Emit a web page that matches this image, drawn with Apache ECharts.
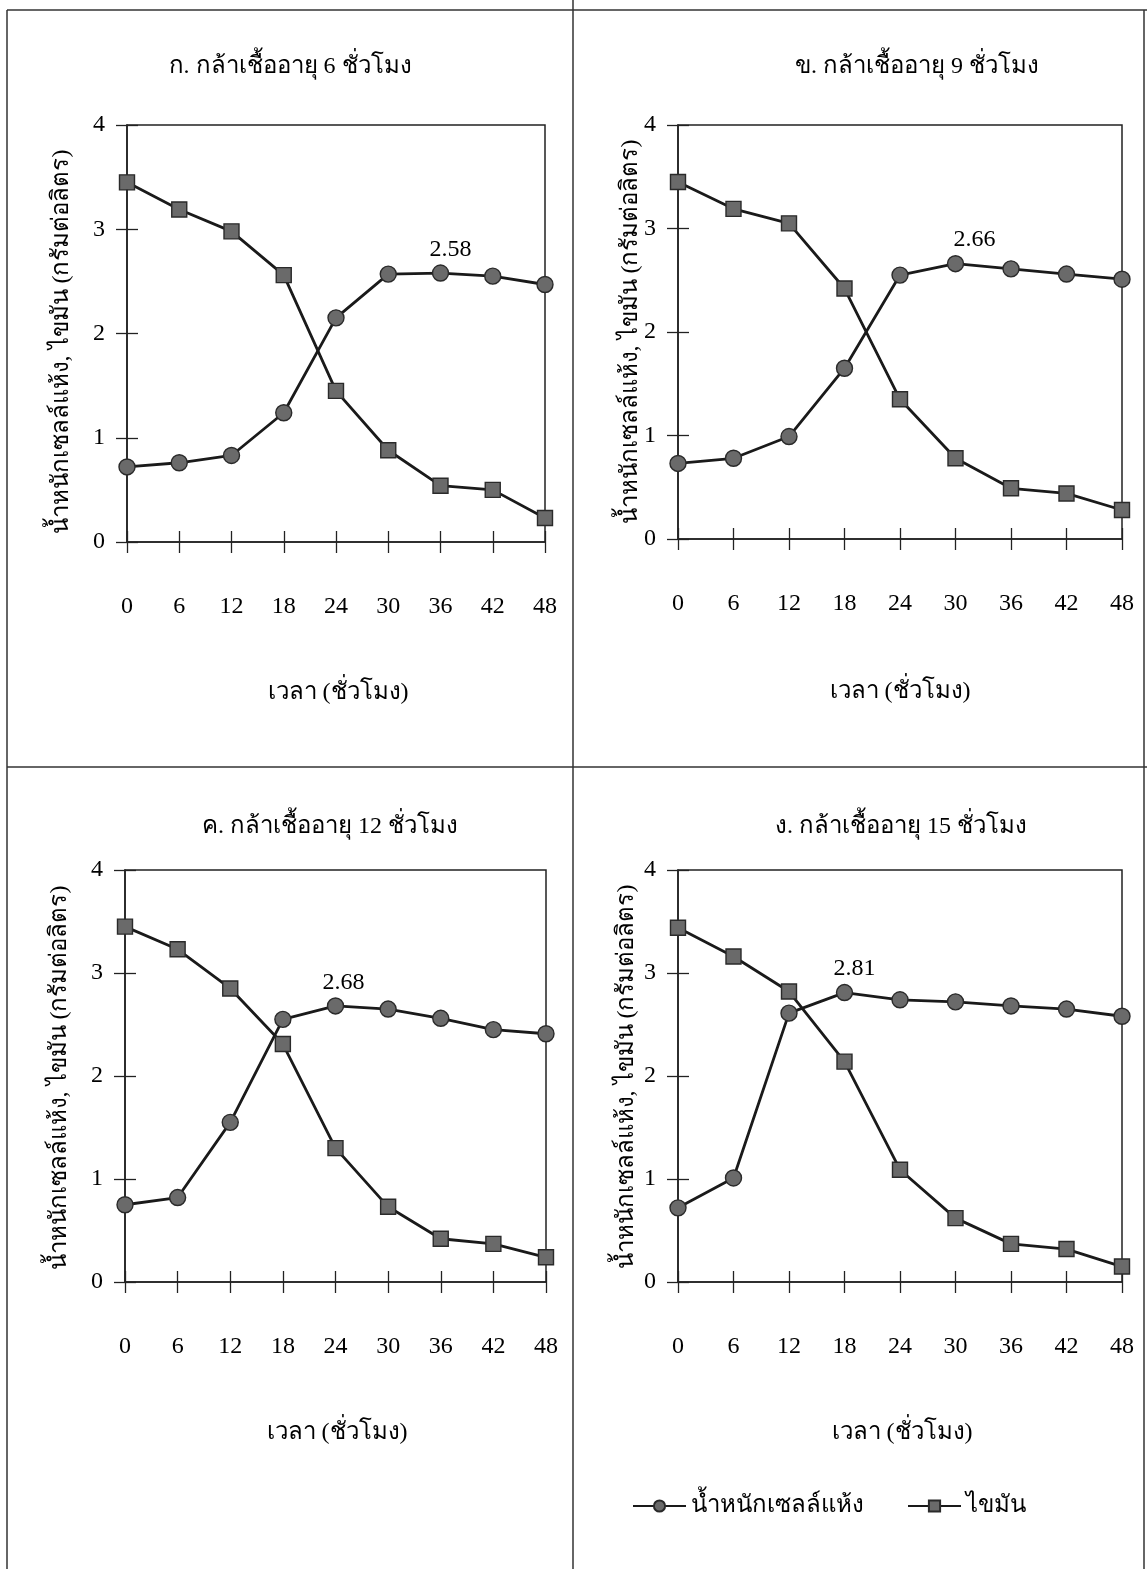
<!DOCTYPE html>
<html>
<head>
<meta charset="utf-8">
<script src="https://cdn.jsdelivr.net/npm/echarts@6/dist/echarts.min.js"></script>
<style>
html,body{margin:0;padding:0;background:#fff;}
#chart{width:1147px;height:1569px;}
</style>
</head>
<body>
<div id="chart"></div>
<script>
// ---- data ----
const times = [0, 6, 12, 18, 24, 30, 36, 42, 48];
const xTicks = [0, 6, 12, 18, 24, 30, 36, 42, 48];
const yTicks = [0, 1, 2, 3, 4];
const panelTitles = [
  'ก. กล้าเชื้ออายุ 6 ชั่วโมง',
  'ข. กล้าเชื้ออายุ 9 ชั่วโมง',
  'ค. กล้าเชื้ออายุ 12 ชั่วโมง',
  'ง. กล้าเชื้ออายุ 15 ชั่วโมง'
];
const seriesNames = ['น้ำหนักเซลล์แห้ง', 'ไขมัน'];
const xAxisTitle = 'เวลา (ชั่วโมง)';
const yAxisTitle = 'น้ำหนักเซลล์แห้ง, ไขมัน (กรัมต่อลิตร)';

const biomassA = [0.72, 0.76, 0.83, 1.24, 2.15, 2.57, 2.58, 2.55, 2.47];
const lipidA   = [3.45, 3.19, 2.98, 2.56, 1.45, 0.88, 0.54, 0.50, 0.23];
const biomassB = [0.73, 0.78, 0.99, 1.65, 2.55, 2.66, 2.61, 2.56, 2.51];
const lipidB   = [3.45, 3.19, 3.05, 2.42, 1.35, 0.78, 0.49, 0.44, 0.28];
const biomassC = [0.75, 0.82, 1.55, 2.55, 2.68, 2.65, 2.56, 2.45, 2.41];
const lipidC   = [3.45, 3.23, 2.85, 2.31, 1.30, 0.73, 0.42, 0.37, 0.24];
const biomassD = [0.72, 1.01, 2.61, 2.81, 2.74, 2.72, 2.68, 2.65, 2.58];
const lipidD   = [3.44, 3.16, 2.82, 2.14, 1.09, 0.62, 0.37, 0.32, 0.15];
const peakIndex = [6, 5, 4, 3]; // labelled maximum of biomass per panel

// ---- layout / style ----
const FONT = "'Liberation Serif', 'DejaVu Serif', serif";
const panels = [
  {grid:{left:127, top:125, width:418, height:417}, title:[290, 67], xname:[338, 693], yname:[62, 342], labelOffset:[10, 0]},
  {grid:{left:678, top:125, width:444, height:414}, title:[917, 67], xname:[900, 692], yname:[631, 332], labelOffset:[19, 0]},
  {grid:{left:125, top:870, width:421, height:412}, title:[330, 827], xname:[337, 1433], yname:[60, 1078], labelOffset:[8, 0]},
  {grid:{left:678, top:870, width:444, height:412}, title:[901, 827], xname:[902, 1433], yname:[627, 1077], labelOffset:[10, 0]}
];
const biomassData = [biomassA, biomassB, biomassC, biomassD];
const lipidData = [lipidA, lipidB, lipidC, lipidD];

const lineColor = '#1a1a1a';
const markColor = '#6a6a6a';
const axisColor = '#222';
const textColor = '#000';

const grids = [], xAxes = [], yAxes = [], series = [], graphics = [];

panels.forEach((p, i) => {
  grids.push(Object.assign({show:true, borderColor:axisColor, borderWidth:1.5, backgroundColor:'transparent'}, p.grid));
  const xBase = {type:'value', gridIndex:i, min:xTicks[0], max:xTicks[xTicks.length-1], interval:6,
    splitLine:{show:false}, position:'bottom'};
  xAxes.push(Object.assign({}, xBase, {
    axisLine:{show:true, lineStyle:{color:axisColor, width:1.6}},
    axisTick:{show:true, inside:false, length:11, lineStyle:{color:axisColor, width:1.3}},
    axisLabel:{show:true, margin:53, color:textColor, fontFamily:FONT, fontSize:24}
  }));
  xAxes.push(Object.assign({}, xBase, {
    axisLine:{show:false},
    axisTick:{show:true, inside:true, length:11, lineStyle:{color:axisColor, width:1.3}},
    axisLabel:{show:false}
  }));
  const yBase = {type:'value', gridIndex:i, min:yTicks[0], max:yTicks[yTicks.length-1], interval:1,
    splitLine:{show:false}, position:'left'};
  yAxes.push(Object.assign({}, yBase, {
    axisLine:{show:true, lineStyle:{color:axisColor, width:1.6}},
    axisTick:{show:true, inside:false, length:11, lineStyle:{color:axisColor, width:1.3}},
    axisLabel:{show:true, margin:22, color:textColor, fontFamily:FONT, fontSize:24}
  }));
  yAxes.push(Object.assign({}, yBase, {
    axisLine:{show:false},
    axisTick:{show:true, inside:true, length:11, lineStyle:{color:axisColor, width:1.3}},
    axisLabel:{show:false}
  }));

  const bio = biomassData[i].map((v, k) => {
    const item = {value:[times[k], v]};
    if (k === peakIndex[i]) {
      item.label = {show:true, position:'top', distance:3, offset:p.labelOffset,
        formatter: (prm) => prm.value[1].toFixed(2), color:textColor, fontFamily:FONT, fontSize:24};
    }
    return item;
  });
  series.push({
    name:seriesNames[0], type:'line', xAxisIndex:i*2, yAxisIndex:i*2, data:bio,
    symbol:'circle', symbolSize:16, showAllSymbol:true,
    lineStyle:{color:lineColor, width:2.8},
    itemStyle:{color:markColor, borderColor:'#2a2a2a', borderWidth:1.4},
    emphasis:{disabled:true}, animation:false, z:3
  });
  series.push({
    name:seriesNames[1], type:'line', xAxisIndex:i*2, yAxisIndex:i*2,
    data:lipidData[i].map((v, k) => [times[k], v]),
    symbol:'rect', symbolSize:15, showAllSymbol:true,
    lineStyle:{color:lineColor, width:2.8},
    itemStyle:{color:markColor, borderColor:'#2a2a2a', borderWidth:1.4},
    emphasis:{disabled:true}, animation:false, z:3
  });

  graphics.push({type:'text', x:p.title[0], y:p.title[1],
    style:{text:panelTitles[i], textAlign:'center', textVerticalAlign:'middle', fill:textColor, font:"24px " + FONT}});
  graphics.push({type:'text', x:p.xname[0], y:p.xname[1],
    style:{text:xAxisTitle, textAlign:'center', textVerticalAlign:'middle', fill:textColor, font:"24px " + FONT}});
  graphics.push({type:'text', x:p.yname[0], y:p.yname[1], rotation:Math.PI/2,
    style:{text:yAxisTitle, textAlign:'center', textVerticalAlign:'middle', fill:textColor, font:"24px " + FONT}});
});

// panel frame lines
const frame = [
  [7, 10, 1147, 10], [7, 10, 7, 1569], [1144, 10, 1144, 1569],
  [573, 0, 573, 1569], [7, 767, 1147, 767]
];
frame.forEach(f => graphics.push({type:'line', shape:{x1:f[0], y1:f[1], x2:f[2], y2:f[3]},
  style:{stroke:'#333', lineWidth:1.5}, silent:true}));

const chart = echarts.init(document.getElementById('chart'), null, {renderer:'canvas'});
chart.setOption({
  backgroundColor:'#ffffff',
  animation:false,
  grid:grids,
  xAxis:xAxes,
  yAxis:yAxes,
  series:series,
  legend:{
    data:seriesNames, left:627, top:1489, itemWidth:53, itemHeight:14, itemGap:43,
    textStyle:{fontFamily:FONT, fontSize:24, color:textColor},
    selectedMode:false
  },
  graphic:graphics
});
</script>
</body>
</html>
